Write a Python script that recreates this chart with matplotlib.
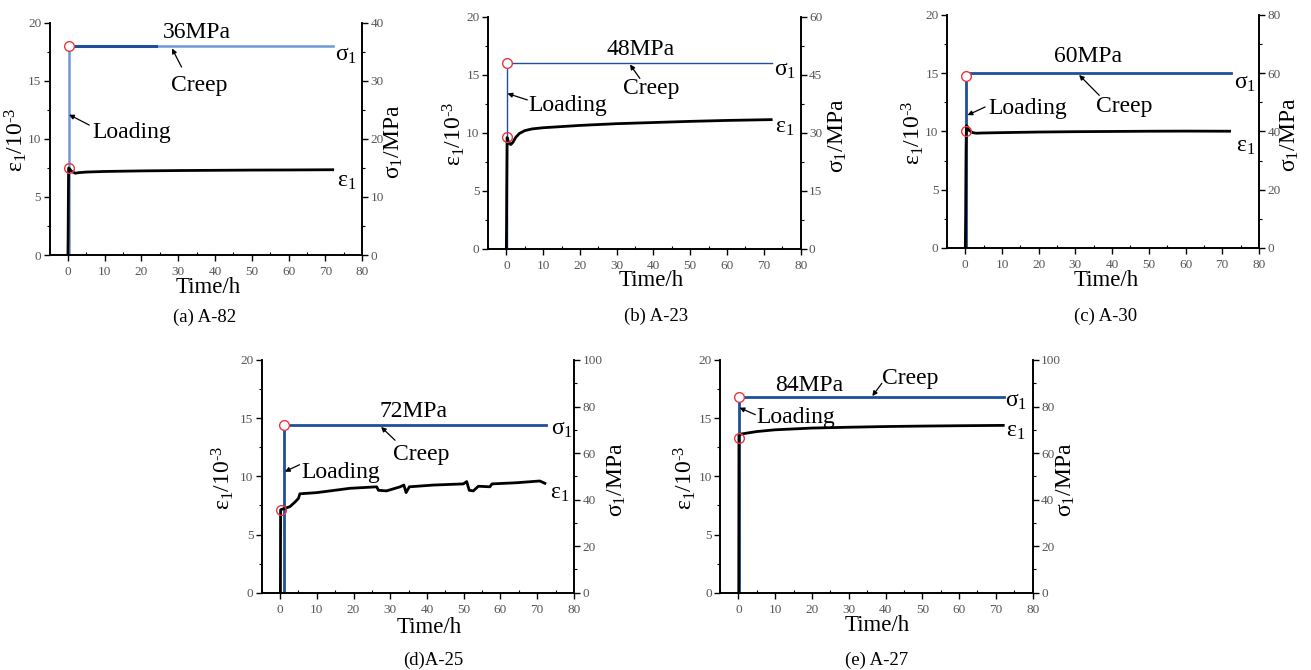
import matplotlib
matplotlib.use('Agg')
from matplotlib import pyplot as plt
from matplotlib.ticker import MultipleLocator

plt.rcParams['font.family'] = ['Liberation Serif', 'DejaVu Serif']
plt.rcParams['mathtext.fontset'] = 'custom'
plt.rcParams['mathtext.rm'] = 'Liberation Serif'
plt.rcParams['mathtext.it'] = 'Liberation Serif:italic'

# specimen data
names = ['(a) A-82', '(b) A-23', '(c) A-30', '(d)A-25', '(e) A-27']
stress = [36, 48, 60, 72, 84]           # MPa
sig_max = [40, 60, 80, 100, 100]        # right axis top
sig_step = [10, 15, 20, 20, 20]
sig_x = [0.2, 0.2, 0.3, 1.1, 0.2]       # loading time of sigma step

t_a = [0.0, 0.05, 0.1, 0.15, 0.2, 0.5, 1.0, 2.0, 3.0, 5, 10, 20, 30, 40, 50, 60, 72]
e_a = [0, 1.5, 4.0, 6.5, 7.5, 7.4, 7.2, 7.05, 7.1, 7.15, 7.2, 7.25, 7.28, 7.3, 7.32, 7.33, 7.35]

t_b = [0, 0.05, 0.1, 0.2, 0.4, 0.8, 1.2, 1.8, 2.5, 3.5, 5, 7, 10, 15, 20, 30, 40, 50, 60, 72]
e_b = [0, 2, 5, 9.6, 9.4, 9.1, 9.0, 9.2, 9.6, 9.95, 10.2, 10.35, 10.45, 10.55, 10.65,
       10.8, 10.9, 11.0, 11.08, 11.15]

t_c = [0, 0.05, 0.1, 0.2, 0.3, 0.6, 1.0, 2, 3, 5, 10, 20, 30, 40, 50, 60, 72]
e_c = [0, 1.2, 3, 8, 10.5, 10.4, 10.1, 9.9, 9.85, 9.87, 9.9, 9.95, 9.98, 10.0, 10.02, 10.03, 10.02]

t_d = [0.1, 0.15, 0.3, 1.4, 2.7, 4.1, 5.0, 5.4, 10, 19, 26.3, 26.8, 29, 32.7, 33.7, 34.3,
       35.2, 41.7, 49.9, 50.8, 51.5, 52.6, 54, 57.1, 57.7, 64.4, 70.7, 72.1]
e_d = [0, 7.1, 7.15, 7.25, 7.4, 7.8, 8.1, 8.5, 8.6, 8.97, 9.1, 8.8, 8.75, 9.1, 9.25, 8.6,
       9.1, 9.25, 9.35, 9.55, 8.8, 8.75, 9.15, 9.1, 9.35, 9.45, 9.6, 9.4]

t_e = [0.1, 0.15, 0.3, 1, 3, 5, 10, 20, 30, 40, 50, 60, 72]
e_e = [0, 13.55, 13.6, 13.65, 13.75, 13.85, 14.0, 14.15, 14.22, 14.28, 14.32, 14.35, 14.38]

t_list = [t_a, t_b, t_c, t_d, t_e]
e_list = [e_a, e_b, e_c, e_d, e_e]
e_start = [(0.2, 7.5), (0.2, 9.65), (0.2, 10.0), (0.2, 7.1), (0.2, 13.3)]
s_start = [(0.2, 36), (0.2, 48), (0.2, 59), (1.1, 72), (0.2, 84)]

# axes boxes in figure fraction
boxes = [[0.0378, 0.6194, 0.2384, 0.3463],
         [0.3722, 0.6284, 0.2385, 0.3463],
         [0.7223, 0.6299, 0.2380, 0.3478],
         [0.1996, 0.1154, 0.2382, 0.3473],
         [0.5492, 0.1154, 0.2385, 0.3473]]
caps = [(205, 317), (656, 316), (1106, 316), (433, 660), (877, 660)]
sig_lw = [2.0, 1.0, 2.0, 2.0, 2.0]
blue = '#1f4e9a'

# text / arrow positions (data coords of left axis)
mpa_xy = [(35.1, 19.2), (36.5, 17.2), (33.5, 16.4), (36.4, 15.6), (19.2, 17.8)]
creep_xy = [(35.7, 14.65), (39.5, 13.8), (43.4, 12.1), (38.3, 11.9), (46.6, 18.45)]
creep_arr = [((30.9, 16.2), (28.3, 17.8)), ((36.3, 14.7), (33.6, 15.9)),
             ((36.5, 13.1), (31.0, 14.85)), ((31.3, 13.1), (27.5, 14.25)),
             ((39.0, 18.0), (36.4, 16.9))]
load_xy = [(17.3, 10.6), (16.8, 12.4), (17.0, 12.0), (16.6, 10.3), (15.7, 15.1)]
load_arr = [((5.8, 11.2), (0.3, 12.1)), ((5.7, 12.85), (0.3, 13.4)),
            ((5.4, 12.1), (0.6, 11.4)), ((5.3, 11.0), (1.3, 10.4)),
            ((4.6, 15.3), (0.3, 15.9))]
sig_lab = [(72.6, 17.2), (72.8, 15.4), (73.3, 14.1), (73.7, 14.0), (72.5, 16.4)]
eps_lab = [(73.1, 6.3), (73.0, 10.5), (73.7, 8.7), (73.5, 8.55), (72.7, 13.85)]
ylab_x = [-0.108, -0.108, -0.11, -0.125, -0.112]
rlab_x = [1.10, 1.118, 1.10, 1.138, 1.107]
xlab_xy = [(0.507, -0.14), (0.523, -0.135), (0.512, -0.14), (0.537, -0.15), (0.503, -0.14)]

fig = plt.figure(figsize=(13.11, 6.70), dpi=100)

for i in range(5):
    ax = fig.add_axes(boxes[i])
    ax2 = ax.twinx()
    ax.set_zorder(ax2.get_zorder() + 1)
    ax.patch.set_visible(False)

    # stress step
    sx = sig_x[i]
    if i == 0:
        ax2.plot([sx, 24], [stress[i], stress[i]], color=blue, lw=2.2)
        ax2.plot([sx, sx, 24, 72], [0, stress[i], stress[i], stress[i]], color='#6f96d6', lw=1.8,
                 zorder=1)
    else:
        ax2.plot([sx, sx, 72.3], [0, stress[i], stress[i]], color=blue, lw=sig_lw[i])
    ax2.plot(*s_start[i], 'o', ms=7, mfc='white', mec='#e8383d', mew=1.0, zorder=5)

    # strain
    ax.plot(t_list[i], e_list[i], color='black', lw=2.0)
    ax.plot(*e_start[i], 'o', ms=7, mfc='none', mec='#e8383d', mew=1.0, zorder=5)

    ax.set_xlim(-5, 80)
    ax.set_ylim(0, 20)
    ax2.set_ylim(0, sig_max[i])
    ax.xaxis.set_major_locator(MultipleLocator(10))
    ax.xaxis.set_minor_locator(MultipleLocator(5))
    ax.yaxis.set_major_locator(MultipleLocator(5))
    ax.yaxis.set_minor_locator(MultipleLocator(2.5))
    ax2.yaxis.set_major_locator(MultipleLocator(sig_step[i]))
    ax2.yaxis.set_minor_locator(MultipleLocator(sig_step[i] / 2))
    ax.set_xticks(range(0, 81, 10))

    for a in (ax, ax2):
        a.spines['top'].set_visible(False)
        for s in ('left', 'right', 'bottom'):
            a.spines[s].set_linewidth(1.2)
        a.tick_params(which='major', direction='out', length=4, width=1,
                      labelsize=9.5, labelcolor='#555555', pad=2)
        a.tick_params(which='minor', direction='out', length=2.5, width=0.8)
    ax.tick_params(axis='x', which='major', pad=4)
    ax.tick_params(axis='x', which='minor', direction='in')

    ax.text(*mpa_xy[i], '%dMPa' % stress[i], fontsize=17, ha='center', va='center')
    ax.text(*creep_xy[i], 'Creep', fontsize=17, ha='center', va='center')
    ax.text(*load_xy[i], 'Loading', fontsize=17, ha='center', va='center')
    for tail, tip in (creep_arr[i], load_arr[i]):
        ax.annotate('', xy=tip, xytext=tail,
                    arrowprops=dict(arrowstyle='-|>', color='black', lw=0.9,
                                    mutation_scale=7, shrinkA=0, shrinkB=0))
    ax.text(*sig_lab[i], 'σ$_1$', fontsize=17, ha='left', va='center')
    ax.text(*eps_lab[i], 'ε$_1$', fontsize=17, ha='left', va='center')

    ax.text(ylab_x[i], 0.495, 'ε$_1$/10$^{\u2010 3}$', fontsize=17, rotation=90,
            ha='center', va='center', transform=ax.transAxes)
    ax.text(rlab_x[i], 0.487, 'σ$_1$/MPa', fontsize=17, rotation=90,
            ha='center', va='center', transform=ax.transAxes)
    ax.text(*xlab_xy[i], 'Time/h', fontsize=16.5, ha='center', va='center',
            transform=ax.transAxes)

    fig.text(caps[i][0] / 1311, 1 - caps[i][1] / 670, names[i], fontsize=13.5,
             ha='center', va='center')

fig.savefig('out.png', dpi=100)
